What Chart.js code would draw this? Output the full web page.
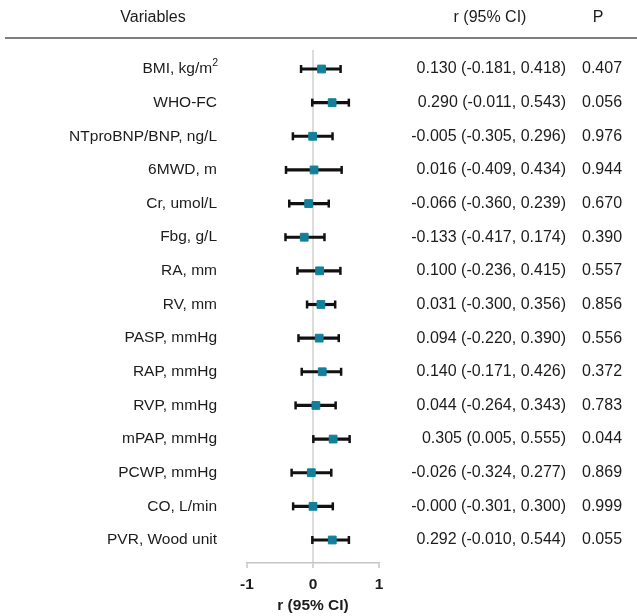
<!DOCTYPE html>
<html>
<head>
<meta charset="utf-8">
<script src="https://cdn.jsdelivr.net/npm/chart.js@4"></script>
<style>
  body { margin: 0; background: #fff; }
  canvas { display: block; }
</style>
</head>
<body>
<canvas id="forest" width="637" height="616"></canvas>
<script>
// rows, top to bottom
const variables = ["BMI, kg/m²", "WHO-FC", "NTproBNP/BNP, ng/L", "6MWD, m", "Cr, umol/L", "Fbg, g/L", "RA, mm", "RV, mm",
    "PASP, mmHg", "RAP, mmHg", "RVP, mmHg", "mPAP, mmHg", "PCWP, mmHg", "CO, L/min", "PVR, Wood unit"];

// plotted estimates and CI ends (as drawn)
const rValues = [0.130, 0.290, -0.005, 0.016, -0.066, -0.133, 0.100, 0.120, 0.094, 0.140, 0.044, 0.305, -0.026, -0.000, 0.292];
const ciLower = [-0.181, -0.011, -0.305, -0.409, -0.360, -0.417, -0.236, -0.090, -0.220, -0.171, -0.264, 0.005, -0.324, -0.301, -0.010];
const ciUpper = [0.418, 0.543, 0.296, 0.434, 0.239, 0.174, 0.415, 0.336, 0.390, 0.426, 0.343, 0.555, 0.277, 0.300, 0.544];

// printed columns
const ciLabels = ["0.130 (-0.181, 0.418)", "0.290 (-0.011, 0.543)", "-0.005 (-0.305, 0.296)", "0.016 (-0.409, 0.434)",
    "-0.066 (-0.360, 0.239)", "-0.133 (-0.417, 0.174)", "0.100 (-0.236, 0.415)", "0.031 (-0.300, 0.356)",
    "0.094 (-0.220, 0.390)", "0.140 (-0.171, 0.426)", "0.044 (-0.264, 0.343)", "0.305 (0.005, 0.555)",
    "-0.026 (-0.324, 0.277)", "-0.000 (-0.301, 0.300)", "0.292 (-0.010, 0.544)"];
const pLabels = ["0.407", "0.056", "0.976", "0.944", "0.670", "0.390", "0.557", "0.856", "0.556", "0.372", "0.783",
    "0.044", "0.869", "0.999", "0.055"];

const xTicks = [-1, 0, 1];

const FONT = '"Liberation Sans", Arial, sans-serif';
const TEXT = "#1c1c1c";
const TEAL = "#12809a";

const tablePlugin = {
    id: "table",
    afterDraw(chart) {
        const c = chart.ctx;
        const yScale = chart.scales.y;
        c.save();
        c.fillStyle = TEXT;
        c.textBaseline = "middle";
        c.font = "16px " + FONT;

        // header
        c.textAlign = "center";
        c.fillText("Variables", 153, 18);
        c.fillText("r (95% CI)", 490, 18);
        c.fillText("P", 598, 18);

        c.strokeStyle = "#555";
        c.lineWidth = 1.5;
        c.beginPath();
        c.moveTo(5, 38);
        c.lineTo(637, 38);
        c.stroke();

        variables.forEach((name, i) => {
            const y = yScale.getPixelForValue(i + 1);
            c.font = "15.5px " + FONT;
            if (name.endsWith("²")) {
                const base = name.slice(0, -1);
                c.font = "10.5px " + FONT;
                const supW = c.measureText("2").width;
                c.textAlign = "left";
                c.fillText("2", 218 - supW, y - 6);
                c.font = "15.5px " + FONT;
                c.textAlign = "right";
                c.fillText(base, 218 - supW, y);
            } else {
                c.textAlign = "right";
                c.fillText(name, 217, y);
            }
            c.font = "16px " + FONT;
            c.textAlign = "right";
            c.fillText(ciLabels[i], 566, y);
            c.textAlign = "left";
            c.fillText(pLabels[i], 582, y);
        });
        c.restore();
    }
};

const rows = variables.map((_, i) => i + 1);

new Chart(document.getElementById("forest"), {
    type: "scatter",
    data: {
        datasets: [
            {
                label: "r",
                type: "scatter",
                order: 0,
                data: rows.map((y, i) => ({ x: rValues[i], y: y })),
                pointStyle: "rect",
                pointRadius: 5.5,
                backgroundColor: TEAL,
                borderColor: TEAL,
                borderWidth: 1
            },
            {
                label: "caps",
                type: "scatter",
                order: 1,
                data: rows.flatMap((y, i) => [{ x: ciLower[i], y: y }, { x: ciUpper[i], y: y }]),
                pointStyle: "line",
                rotation: 90,
                pointRadius: 4,
                borderWidth: 2.5,
                borderColor: "#111"
            },
            {
                label: "CI",
                type: "bar",
                indexAxis: "y",
                order: 2,
                data: rows.map((y, i) => ({ y: y, x: [ciLower[i], ciUpper[i]] })),
                backgroundColor: "#111",
                borderWidth: 0,
                barThickness: 2.5
            }
        ]
    },
    options: {
        responsive: false,
        animation: false,
        layout: { padding: { left: 247, right: 258, top: 50, bottom: 0 } },
        plugins: {
            legend: { display: false },
            tooltip: { enabled: false }
        },
        scales: {
            x: {
                type: "linear",
                min: -1,
                max: 1,
                offset: false,
                afterBuildTicks: (scale) => { scale.ticks = xTicks.map(v => ({ value: v })); },
                afterFit: (scale) => { scale.height = 53; },
                ticks: {
                    color: TEXT,
                    padding: 7,
                    font: { family: FONT, size: 15.5, weight: "bold" }
                },
                grid: {
                    offset: false,
                    color: (ctx) => (ctx.tick && ctx.tick.value === 0 ? "#dcdcdc" : "rgba(0,0,0,0)"),
                    lineWidth: 2,
                    tickColor: "#c4c4c4",
                    tickWidth: 1.5,
                    tickLength: 5
                },
                border: { color: "#c4c4c4", width: 1.5 },
                title: {
                    display: true,
                    text: "r (95% CI)",
                    color: TEXT,
                    font: { family: FONT, size: 15.5, weight: "bold" },
                    padding: { top: 0, bottom: 1 }
                }
            },
            y: {
                type: "linear",
                display: false,
                reverse: true,
                min: 0.435,
                max: 15.684,
                offset: false
            }
        }
    },
    plugins: [tablePlugin]
});
</script>
</body>
</html>
